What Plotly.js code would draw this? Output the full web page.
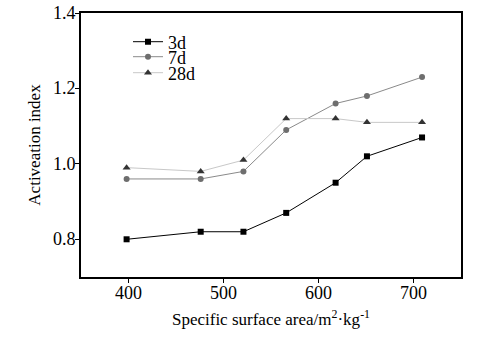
<!DOCTYPE html>
<html>
<head>
<meta charset="utf-8">
<script src="https://cdn.plot.ly/plotly-3.0.1.min.js"></script>
<style>
html,body{margin:0;padding:0;background:#fff;}
#chart{width:483px;height:354px;}
</style>
</head>
<body>
<div id="chart"></div>
<script>
const surfaceArea = [398, 476, 521, 566, 618, 651, 709];
const index3d = [0.80, 0.82, 0.82, 0.87, 0.95, 1.02, 1.07];
const index7d = [0.96, 0.96, 0.98, 1.09, 1.16, 1.18, 1.23];
const index28d = [0.99, 0.98, 1.01, 1.12, 1.12, 1.11, 1.11];
const seriesNames = ['3d', '7d', '28d'];
const xTicks = [400, 500, 600, 700];
const yTicks = [0.8, 1.0, 1.2, 1.4];
const yTickText = ['0.8', '1.0', '1.2', '1.4'];

const serif = 'Liberation Serif';
const traces = [
  {x: surfaceArea, y: index3d, name: seriesNames[0], mode: 'lines+markers', type: 'scatter', legend: 'legend',
   line: {color: '#000000', width: 1}, marker: {symbol: 'square', size: 6, color: '#000000'}},
  {x: surfaceArea, y: index7d, name: seriesNames[1], mode: 'lines+markers', type: 'scatter', legend: 'legend2',
   line: {color: '#8a8a8a', width: 1}, marker: {symbol: 'circle', size: 6, color: '#6e6e6e'}},
  {x: surfaceArea, y: index28d, name: seriesNames[2], mode: 'lines+markers', type: 'scatter', legend: 'legend3',
   line: {color: '#c8c8c8', width: 1}, marker: {symbol: 'triangle-up', size: 7, color: '#333333'}}
];
function leg(py) {
  return {x: (128 - 81) / 380, y: (277 - py) / 264, xanchor: 'left', yanchor: 'middle',
          bgcolor: 'rgba(0,0,0,0)', font: {family: serif, size: 18, color: '#000'}, itemwidth: 30,
          borderwidth: 0};
}
const tickFont = {family: serif, size: 18, color: '#000'};
const xLabelAnnots = xTicks.map(v => ({
  x: v, xref: 'x', y: 0, yref: 'paper', text: String(v), showarrow: false,
  xanchor: 'center', yanchor: 'top', yshift: -4, font: tickFont
}));
const yLabelAnnots = yTicks.map((v, i) => ({
  x: 0, xref: 'paper', y: v, yref: 'y', text: yTickText[i], showarrow: false,
  xanchor: 'right', yanchor: 'middle', xshift: -3, font: tickFont
}));
const layout = {
  width: 483, height: 354,
  margin: {l: 81, r: 22, t: 13, b: 77},
  paper_bgcolor: '#ffffff', plot_bgcolor: '#ffffff',
  font: {family: serif, color: '#000000', size: 18},
  showlegend: true,
  legend: leg(42), legend2: leg(57), legend3: leg(73),
  annotations: xLabelAnnots.concat(yLabelAnnots),
  xaxis: {range: [350, 750], tickvals: xTicks, showticklabels: false,
          showgrid: false, zeroline: false, showline: true, linecolor: '#000', linewidth: 2, mirror: true,
          ticks: 'outside', ticklen: 4, tickwidth: 1, tickcolor: '#000',
          title: {text: 'Specific surface area/m<sup>2</sup>·kg<sup>-1</sup>', font: {family: serif, size: 17}, standoff: 31}},
  yaxis: {range: [0.7, 1.4], tickvals: yTicks, showticklabels: false,
          showgrid: false, zeroline: false, showline: true, linecolor: '#000', linewidth: 2, mirror: true,
          ticks: 'outside', ticklen: 4, tickwidth: 1, tickcolor: '#000',
          title: {text: 'Activeation index', font: {family: serif, size: 17}, standoff: 30}}
};
Plotly.newPlot('chart', traces, layout, {displayModeBar: false, staticPlot: true});
</script>
</body>
</html>
